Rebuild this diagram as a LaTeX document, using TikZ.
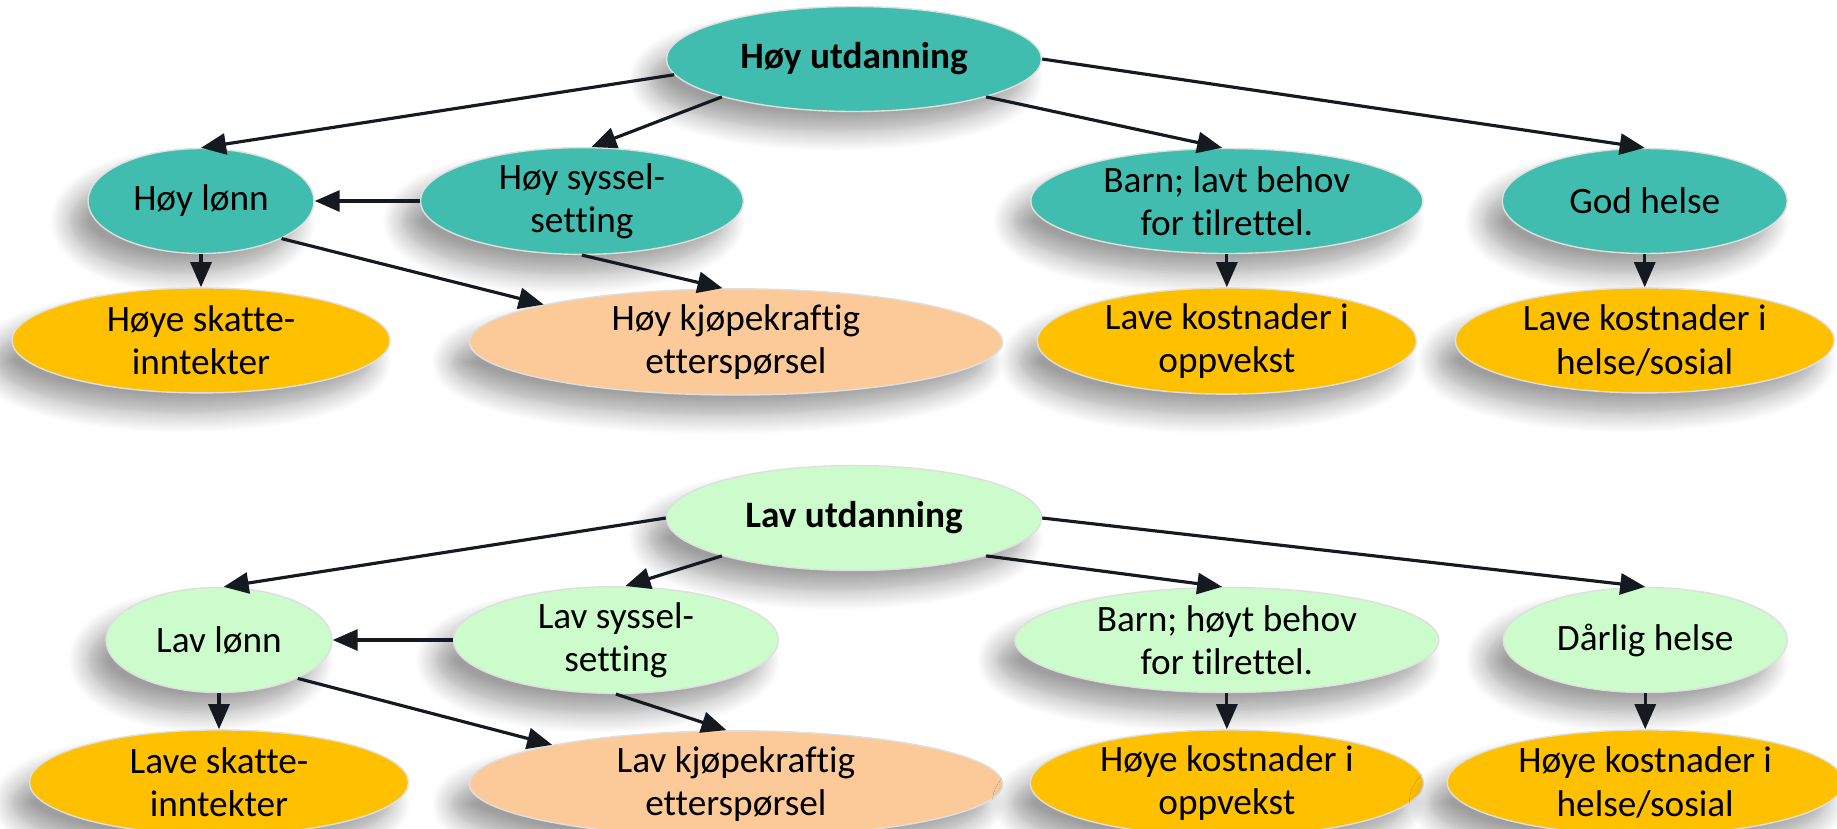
\documentclass[tikz,border=0pt]{standalone}
\usepackage{fontspec}
\setmainfont{Carlito}[Ligatures=NoCommon]
\usetikzlibrary{shapes.geometric,positioning,arrows.meta,shadows.blur}
\definecolor{turkis}{RGB}{64,189,175}
\definecolor{lysgronn}{RGB}{204,252,204}
\definecolor{gull}{RGB}{255,192,0}
\definecolor{fersken}{RGB}{251,202,152}
\definecolor{pilfarge}{RGB}{20,26,32}

\begin{document}
\begin{tikzpicture}[
	boble/.style = {ellipse, draw=gray!25, line width=0.4pt, minimum height=10.5mm, inner sep=0pt, align=center, font=\fontsize{10.6}{12.3}\selectfont, blur shadow={shadow xshift=-1.8mm, shadow yshift=-2mm, shadow opacity=38, shadow blur radius=2mm, shadow blur steps=12}},
	hoy/.style = {boble, fill=turkis},
	lav/.style = {boble, fill=lysgronn},
	kost/.style = {boble, fill=gull},
	kjop/.style = {boble, fill=fersken},
	pil/.style = {-{Triangle[length=2.5mm,width=2.1mm]}, line width=0.9pt, draw=pilfarge, fill=pilfarge},
]
\useasboundingbox (0,0) rectangle (18.37,-8.28);

% hoy utdanning
\node[hoy, minimum width=37.5mm, font=\fontsize{10.6}{12.3}\selectfont\bfseries] (hoy-utd) at (8.54,-0.59) {Høy utdanning};
\node[hoy, minimum width=22.6mm] (hoy-lonn) at (2.01,-2.01) {Høy lønn};
\node[hoy, minimum width=32.3mm] (hoy-syss) [right=10.5mm of hoy-lonn] {Høy syssel-\\setting};
\node[hoy, minimum width=39.2mm] (hoy-barn) [right=28.6mm of hoy-syss] {Barn; lavt behov\\for tilrettel.};
\node[hoy, minimum width=28.5mm] (hoy-helse) [right=7.8mm of hoy-barn] {God helse};
\node[kost, minimum width=37.8mm] (hoy-skatt) [below=3.3mm of hoy-lonn] {Høye skatte-\\inntekter};
\node[kjop, minimum width=53.3mm] (hoy-kjop) [below=3.3mm of hoy-syss, xshift=15.4mm] {Høy kjøpekraftig\\etterspørsel};
\node[kost, minimum width=37.9mm] (hoy-oppv) [below=3.3mm of hoy-barn] {Lave kostnader i\\oppvekst};
\node[kost, minimum width=37.9mm] (hoy-sos) [below=3.3mm of hoy-helse] {Lave kostnader i\\helse/sosial};

\draw[pil] (hoy-utd.185) -- (hoy-lonn.north);
\draw[pil] (hoy-utd.196) -- (hoy-syss.80);
\draw[pil] (hoy-utd.-16) -- (hoy-barn.95);
\draw[pil] (hoy-utd.east) -- (hoy-helse.north);
\draw[pil] (hoy-syss.west) -- (hoy-lonn.east);
\draw[pil] (hoy-lonn.south) -- (hoy-skatt.north);
\draw[pil] (hoy-lonn.-25) -- (hoy-kjop.169);
\draw[pil] (hoy-syss.south) -- (hoy-kjop.104);
\draw[pil] (hoy-barn.south) -- (hoy-oppv.north);
\draw[pil] (hoy-helse.south) -- (hoy-sos.north);

% lav utdanning
\node[lav, minimum width=37.5mm, font=\fontsize{10.6}{12.3}\selectfont\bfseries] (lav-utd) at (8.54,-5.18) {Lav utdanning};
\node[lav, minimum width=22.6mm] (lav-lonn) at (2.19,-6.40) {Lav lønn};
\node[lav, minimum width=32.5mm] (lav-syss) [right=12mm of lav-lonn] {Lav syssel-\\setting};
\node[lav, minimum width=42.4mm] (lav-barn) [right=23.5mm of lav-syss] {Barn; høyt behov\\for tilrettel.};
\node[lav, minimum width=28.4mm] (lav-helse) [right=6.3mm of lav-barn] {Dårlig helse};
\node[kost, minimum width=37.9mm] (lav-skatt) [below=3.6mm of lav-lonn] {Lave skatte-\\inntekter};
\node[kjop, minimum width=53.3mm] (lav-kjop) [below=3.6mm of lav-syss, xshift=12mm] {Lav kjøpekraftig\\etterspørsel};
\node[kost, minimum width=39.3mm] (lav-oppv) [below=3.6mm of lav-barn] {Høye kostnader i\\oppvekst};
\node[kost, minimum width=39.6mm] (lav-sos) [below=3.6mm of lav-helse] {Høye kostnader i\\helse/sosial};

\draw[pil] (lav-utd.west) -- (lav-lonn.85);
\draw[pil] (lav-utd.196) -- (lav-syss.80);
\draw[pil] (lav-utd.-16) -- (lav-barn.95);
\draw[pil] (lav-utd.east) -- (lav-helse.north);
\draw[pil] (lav-syss.west) -- (lav-lonn.east);
\draw[pil] (lav-lonn.south) -- (lav-skatt.north);
\draw[pil] (lav-lonn.-26) -- (lav-kjop.168);
\draw[pil] (lav-syss.south) -- (lav-kjop.100);
\draw[pil] (lav-barn.south) -- (lav-oppv.north);
\draw[pil] (lav-helse.south) -- (lav-sos.north);
\end{tikzpicture}
\end{document}
